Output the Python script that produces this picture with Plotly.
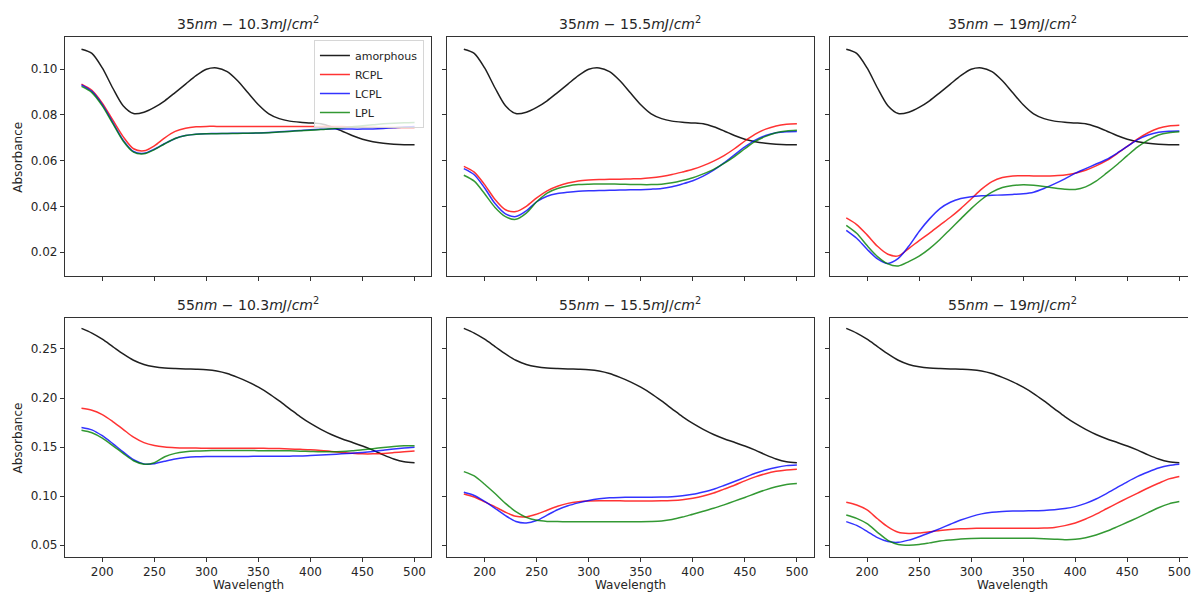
import plotly.graph_objects as go

# ---------------- data ----------------
wavelength = list(range(180, 501, 10))

amorphous_35 = [0.1088, 0.1070, 0.1006, 0.0918, 0.0840, 0.0806, 0.0812, 0.0833, 0.0862, 0.0898, 0.0935,
                0.0972, 0.1000, 0.1006, 0.0990, 0.0950, 0.0897, 0.0845, 0.0805, 0.0784, 0.0773, 0.0768,
                0.0765, 0.0761, 0.0748, 0.0730, 0.0710, 0.0694, 0.0683, 0.0676, 0.0672, 0.0670, 0.0670]
amorphous_55 = [0.2710, 0.2662, 0.2600, 0.2525, 0.2450, 0.2385, 0.2342, 0.2318, 0.2305, 0.2300, 0.2297,
                0.2294, 0.2289, 0.2276, 0.2250, 0.2210, 0.2165, 0.2110, 0.2045, 0.1970, 0.1890, 0.1810,
                0.1740, 0.1680, 0.1628, 0.1585, 0.1548, 0.1510, 0.1468, 0.1420, 0.1378, 0.1350, 0.1340]

# 35 nm - 10.3 mJ/cm2
rcpl_35_103 = [0.0935, 0.0908, 0.0852, 0.0778, 0.0705, 0.0652, 0.0643, 0.0665, 0.0700, 0.0728, 0.0742,
               0.0748, 0.0750, 0.0750, 0.0750, 0.0750, 0.0750, 0.0750, 0.0750, 0.0750, 0.0750, 0.0750,
               0.0750, 0.0750, 0.0750, 0.0749, 0.0748, 0.0747, 0.0746, 0.0745, 0.0745, 0.0745, 0.0745]
lcpl_35_103 = [0.0932, 0.0903, 0.0845, 0.0768, 0.0690, 0.0640, 0.0632, 0.0650, 0.0675, 0.0697, 0.0710,
               0.0716, 0.0718, 0.0719, 0.0719, 0.0720, 0.0720, 0.0721, 0.0723, 0.0726, 0.0729, 0.0732,
               0.0735, 0.0737, 0.0738, 0.0738, 0.0738, 0.0738, 0.0739, 0.0741, 0.0744, 0.0747, 0.0749]
lpl_35_103 = [0.0925, 0.0898, 0.0840, 0.0763, 0.0686, 0.0637, 0.0630, 0.0648, 0.0674, 0.0697, 0.0710,
              0.0716, 0.0718, 0.0718, 0.0719, 0.0719, 0.0720, 0.0721, 0.0722, 0.0725, 0.0728, 0.0731,
              0.0733, 0.0736, 0.0740, 0.0744, 0.0748, 0.0753, 0.0757, 0.0761, 0.0764, 0.0766, 0.0767]

# 35 nm - 15.5 mJ/cm2
rcpl_35_155 = [0.0575, 0.0550, 0.0495, 0.0430, 0.0385, 0.0377, 0.0400, 0.0437, 0.0468, 0.0488, 0.0502,
               0.0511, 0.0515, 0.0517, 0.0518, 0.0519, 0.0520, 0.0521, 0.0525, 0.0531, 0.0539, 0.0550,
               0.0562, 0.0578, 0.0598, 0.0622, 0.0652, 0.0686, 0.0716, 0.0738, 0.0752, 0.0759, 0.0761]
lcpl_35_155 = [0.0565, 0.0538, 0.0480, 0.0412, 0.0367, 0.0355, 0.0380, 0.0420, 0.0444, 0.0456, 0.0462,
               0.0466, 0.0468, 0.0469, 0.0470, 0.0471, 0.0472, 0.0473, 0.0475, 0.0478, 0.0486, 0.0498,
               0.0512, 0.0532, 0.0558, 0.0590, 0.0625, 0.0660, 0.0690, 0.0710, 0.0722, 0.0727, 0.0728]
lpl_35_155 = [0.0536, 0.0510, 0.0455, 0.0395, 0.0355, 0.0343, 0.0370, 0.0420, 0.0458, 0.0478, 0.0489,
              0.0495, 0.0497, 0.0498, 0.0498, 0.0497, 0.0496, 0.0495, 0.0495, 0.0497, 0.0503, 0.0513,
              0.0525, 0.0542, 0.0562, 0.0588, 0.0618, 0.0652, 0.0684, 0.0706, 0.0722, 0.0730, 0.0733]

# 35 nm - 19 mJ/cm2
rcpl_35_19 = [0.0349, 0.0320, 0.0275, 0.0225, 0.0190, 0.0183, 0.0215, 0.0250, 0.0283, 0.0318, 0.0352,
              0.0390, 0.0432, 0.0475, 0.0508, 0.0526, 0.0533, 0.0534, 0.0533, 0.0533, 0.0534, 0.0537,
              0.0545, 0.0558, 0.0577, 0.0600, 0.0630, 0.0662, 0.0695, 0.0722, 0.0742, 0.0752, 0.0755]
lcpl_35_19 = [0.0295, 0.0260, 0.0212, 0.0170, 0.0150, 0.0172, 0.0225, 0.0290, 0.0345, 0.0390, 0.0418,
              0.0434, 0.0442, 0.0446, 0.0448, 0.0450, 0.0452, 0.0455, 0.0462, 0.0478, 0.0498, 0.0520,
              0.0545, 0.0565, 0.0585, 0.0605, 0.0632, 0.0662, 0.0692, 0.0712, 0.0724, 0.0729, 0.0730]
lpl_35_19 = [0.0317, 0.0282, 0.0228, 0.0180, 0.0148, 0.0139, 0.0158, 0.0182, 0.0215, 0.0255, 0.0300,
             0.0345, 0.0390, 0.0430, 0.0462, 0.0482, 0.0491, 0.0494, 0.0492, 0.0487, 0.0480, 0.0475,
             0.0474, 0.0485, 0.0510, 0.0545, 0.0582, 0.0622, 0.0660, 0.0690, 0.0712, 0.0722, 0.0726]

# 55 nm - 10.3 mJ/cm2
rcpl_55_103 = [0.1895, 0.1875, 0.1830, 0.1760, 0.1680, 0.1600, 0.1545, 0.1515, 0.1500, 0.1493, 0.1490,
               0.1489, 0.1488, 0.1488, 0.1488, 0.1487, 0.1487, 0.1487, 0.1486, 0.1484, 0.1480, 0.1476,
               0.1472, 0.1465, 0.1455, 0.1445, 0.1436, 0.1430, 0.1430, 0.1435, 0.1443, 0.1452, 0.1460]
lcpl_55_103 = [0.1700, 0.1675, 0.1615, 0.1535, 0.1450, 0.1370, 0.1328, 0.1330, 0.1355, 0.1378, 0.1392,
               0.1400, 0.1403, 0.1404, 0.1404, 0.1404, 0.1404, 0.1405, 0.1405, 0.1406, 0.1407, 0.1408,
               0.1413, 0.1418, 0.1424, 0.1430, 0.1437, 0.1445, 0.1455, 0.1467, 0.1480, 0.1490, 0.1497]
lpl_55_103 = [0.1670, 0.1645, 0.1590, 0.1515, 0.1435, 0.1360, 0.1325, 0.1340, 0.1400, 0.1435, 0.1452,
              0.1460, 0.1463, 0.1464, 0.1464, 0.1464, 0.1464, 0.1463, 0.1463, 0.1462, 0.1462, 0.1458,
              0.1455, 0.1452, 0.1452, 0.1455, 0.1462, 0.1472, 0.1483, 0.1495, 0.1505, 0.1512, 0.1514]

# 55 nm - 15.5 mJ/cm2
rcpl_55_155 = [0.1021, 0.0990, 0.0940, 0.0890, 0.0835, 0.0793, 0.0787, 0.0815, 0.0855, 0.0895, 0.0925,
               0.0942, 0.0950, 0.0953, 0.0952, 0.0951, 0.0950, 0.0950, 0.0950, 0.0951, 0.0955, 0.0963,
               0.0978, 0.1000, 0.1030, 0.1070, 0.1110, 0.1155, 0.1195, 0.1228, 0.1252, 0.1266, 0.1273]
lcpl_55_155 = [0.1038, 0.1005, 0.0945, 0.0875, 0.0800, 0.0740, 0.0725, 0.0750, 0.0805, 0.0860, 0.0900,
               0.0930, 0.0955, 0.0972, 0.0982, 0.0986, 0.0988, 0.0988, 0.0988, 0.0989, 0.0993, 0.1002,
               0.1018, 0.1042, 0.1070, 0.1108, 0.1148, 0.1190, 0.1232, 0.1265, 0.1292, 0.1310, 0.1317]
lpl_55_155 = [0.1249, 0.1205, 0.1120, 0.1025, 0.0925, 0.0840, 0.0782, 0.0752, 0.0741, 0.0739, 0.0738,
              0.0738, 0.0738, 0.0738, 0.0738, 0.0738, 0.0738, 0.0738, 0.0740, 0.0745, 0.0760, 0.0785,
              0.0815, 0.0845, 0.0875, 0.0910, 0.0948, 0.0985, 0.1025, 0.1063, 0.1095, 0.1118, 0.1128]

# 55 nm - 19 mJ/cm2
rcpl_55_19 = [0.0936, 0.0908, 0.0858, 0.0768, 0.0685, 0.0630, 0.0618, 0.0622, 0.0635, 0.0648, 0.0658,
              0.0665, 0.0669, 0.0671, 0.0671, 0.0671, 0.0671, 0.0671, 0.0671, 0.0673, 0.0680, 0.0698,
              0.0725, 0.0765, 0.0815, 0.0870, 0.0925, 0.0978, 0.1030, 0.1082, 0.1130, 0.1175, 0.1200]
lcpl_55_19 = [0.0739, 0.0700, 0.0640, 0.0575, 0.0535, 0.0528, 0.0550, 0.0585, 0.0625, 0.0668, 0.0712,
              0.0755, 0.0790, 0.0818, 0.0834, 0.0842, 0.0846, 0.0848, 0.0850, 0.0853, 0.0860, 0.0872,
              0.0892, 0.0925, 0.0970, 0.1025, 0.1085, 0.1145, 0.1200, 0.1245, 0.1285, 0.1312, 0.1324]
lpl_55_19 = [0.0807, 0.0772, 0.0718, 0.0630, 0.0548, 0.0506, 0.0498, 0.0505, 0.0522, 0.0540, 0.0552,
             0.0562, 0.0567, 0.0569, 0.0569, 0.0569, 0.0569, 0.0569, 0.0568, 0.0565, 0.0560, 0.0555,
             0.0558, 0.0575, 0.0603, 0.0640, 0.0685, 0.0732, 0.0780, 0.0830, 0.0880, 0.0920, 0.0943]

panel_titles = [
    "35<i>nm</i> − 10.3<i>mJ</i>/<i>cm</i><sup>2</sup>",
    "35<i>nm</i> − 15.5<i>mJ</i>/<i>cm</i><sup>2</sup>",
    "35<i>nm</i> − 19<i>mJ</i>/<i>cm</i><sup>2</sup>",
    "55<i>nm</i> − 10.3<i>mJ</i>/<i>cm</i><sup>2</sup>",
    "55<i>nm</i> − 15.5<i>mJ</i>/<i>cm</i><sup>2</sup>",
    "55<i>nm</i> − 19<i>mJ</i>/<i>cm</i><sup>2</sup>",
]
series_names = ["amorphous", "RCPL", "LCPL", "LPL"]
x_ticks = [200, 250, 300, 350, 400, 450, 500]
y_ticks_35 = [0.02, 0.04, 0.06, 0.08, 0.10]
y_ticks_55 = [0.05, 0.10, 0.15, 0.20, 0.25]

panel_series = [
    [amorphous_35, rcpl_35_103, lcpl_35_103, lpl_35_103],
    [amorphous_35, rcpl_35_155, lcpl_35_155, lpl_35_155],
    [amorphous_35, rcpl_35_19, lcpl_35_19, lpl_35_19],
    [amorphous_55, rcpl_55_103, lcpl_55_103, lpl_55_103],
    [amorphous_55, rcpl_55_155, lcpl_55_155, lpl_55_155],
    [amorphous_55, rcpl_55_19, lcpl_55_19, lpl_55_19],
]

# ---------------- styling ----------------
W, H = 1191, 594
colors = {
    "amorphous": "rgba(0,0,0,0.88)",
    "RCPL": "rgba(255,0,0,0.8)",
    "LCPL": "rgba(0,0,255,0.8)",
    "LPL": "rgba(0,128,0,0.8)",
}
FONT = "DejaVu Sans"
TXT = "#262626"
AX = "#333333"

# pixel geometry of the axes boxes
col_px = [(65.0, 432.3), (448.3, 815.7), (831.7, 1191.0)]
row_px = [(37.3, 276.3), (318.3, 556.7)]
x_lo, x_hi = 164.0, 516.0
px_per_nm = (col_px[0][1] - col_px[0][0]) / (x_hi - x_lo)
y_ranges = [(0.00936, 0.1140), (0.0381, 0.2813)]

fig = go.Figure()
for i, series in enumerate(panel_series):
    n = i + 1
    xa = "x" if n == 1 else f"x{n}"
    ya = "y" if n == 1 else f"y{n}"
    for name, ys in zip(series_names, series):
        fig.add_trace(go.Scatter(
            x=wavelength, y=ys, mode="lines", name=name,
            line=dict(color=colors[name], width=1.5, shape="spline", smoothing=0.8),
            xaxis=xa, yaxis=ya, showlegend=(i == 0), hoverinfo="skip",
        ))

layout = dict(
    width=W, height=H,
    margin=dict(l=0, r=0, t=0, b=0),
    paper_bgcolor="white", plot_bgcolor="white",
    font=dict(family=FONT, size=12, color=TXT),
    showlegend=True,
    legend=dict(
        x=425 / W, xanchor="right", y=(H - 40) / H, yanchor="top",
        bgcolor="rgba(255,255,255,0.8)", bordercolor="#d6d6d6", borderwidth=1,
        font=dict(family=FONT, size=11, color=TXT), tracegroupgap=0,
        itemwidth=30,
    ),
)

annotations = []
for i in range(6):
    n = i + 1
    r, c = divmod(i, 3)
    x0p, x1p = col_px[c]
    top_px, bot_px = row_px[r]
    xkey = "xaxis" if n == 1 else f"xaxis{n}"
    ykey = "yaxis" if n == 1 else f"yaxis{n}"
    xr_hi = x_lo + (x1p - x0p) / px_per_nm
    layout[xkey] = dict(
        domain=[x0p / W, x1p / W], range=[x_lo, xr_hi],
        anchor="y" if n == 1 else f"y{n}",
        showline=True, linecolor=AX, linewidth=1, mirror=True,
        ticks="outside", ticklen=4, tickwidth=1, tickcolor=AX,
        tickvals=x_ticks, showticklabels=(r == 1),
        ticklabeloverflow="allow",
        tickfont=dict(family=FONT, size=12, color=TXT),
        showgrid=False, zeroline=False,
    )
    layout[ykey] = dict(
        domain=[(H - bot_px) / H, (H - top_px) / H], range=list(y_ranges[r]),
        anchor="x" if n == 1 else f"x{n}",
        showline=True, linecolor=AX, linewidth=1, mirror=(c != 2),
        ticks="outside", ticklen=4, tickwidth=1, tickcolor=AX,
        tickvals=y_ticks_35 if r == 0 else y_ticks_55, tickformat=".2f",
        showticklabels=(c == 0),
        tickfont=dict(family=FONT, size=12, color=TXT),
        showgrid=False, zeroline=False,
    )
    # subplot title
    annotations.append(dict(
        text=panel_titles[i], xref=("x" if n == 1 else f"x{n}"), x=(x_lo + x_hi) / 2,
        yref="paper", y=(H - top_px) / H, yanchor="bottom", xanchor="center",
        yshift=3, showarrow=False, font=dict(family=FONT, size=14, color=TXT),
    ))
    if r == 1:
        annotations.append(dict(
            text="Wavelength", xref=("x" if n == 1 else f"x{n}"), x=(x_lo + x_hi) / 2,
            yref="paper", y=(H - 585) / H, yanchor="middle", xanchor="center",
            showarrow=False, font=dict(family=FONT, size=12, color=TXT),
        ))
    if c == 0:
        annotations.append(dict(
            text="Absorbance", xref="paper", x=18 / W, yref="paper",
            y=(H - (top_px + bot_px) / 2) / H, xanchor="center", yanchor="middle",
            textangle=-90, showarrow=False, font=dict(family=FONT, size=12, color=TXT),
        ))

layout["annotations"] = annotations
fig.update_layout(**layout)

fig.write_html(
    "out.html",
    config={"displayModeBar": False},
    post_script="document.body.style.margin='0';document.body.style.overflow='hidden';",
)
